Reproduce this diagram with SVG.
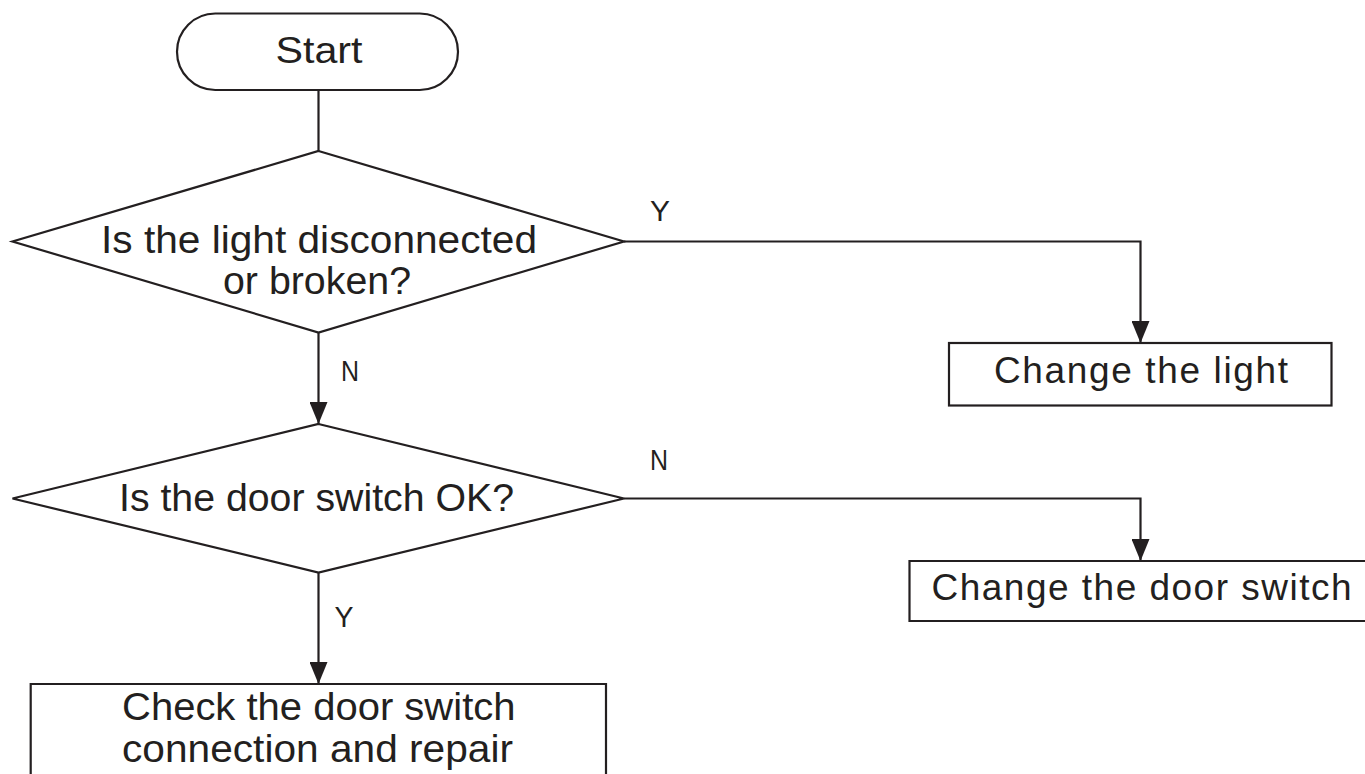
<svg xmlns="http://www.w3.org/2000/svg" width="1365" height="774" viewBox="0 0 1365 774">
<style>
.shape{fill:#fff;stroke:#231f20;stroke-width:2.2}
.conn{fill:none;stroke:#231f20;stroke-width:2.2}
.t{font-family:"Liberation Sans",Arial,sans-serif;font-size:37px;fill:#231f20}
.tn{font-family:"Liberation Sans",Arial,sans-serif;font-size:38px;fill:#231f20}
.lbl{font-family:"Liberation Sans",Arial,sans-serif;font-size:30px;fill:#231f20}
</style>
<defs>
<marker id="arr" viewBox="0 0 22 18" refX="22" refY="9" markerWidth="22" markerHeight="18" markerUnits="userSpaceOnUse" orient="auto">
<path d="M0,0 L22,9 L0,18 Z" fill="#231f20"/>
</marker>
</defs>
<rect width="1365" height="774" fill="#fff"/>
<g id="connectors">
<path class="conn" d="M318.5,90 V151"/>
<path class="conn" d="M624,241.5 H1140.5 V343" marker-end="url(#arr)"/>
<path class="conn" d="M318.5,332.5 V424" marker-end="url(#arr)"/>
<path class="conn" d="M624,498.5 H1140.5 V561" marker-end="url(#arr)"/>
<path class="conn" d="M318.5,572.5 V684" marker-end="url(#arr)"/>
<text class="lbl" x="650" y="221" textLength="20" lengthAdjust="spacingAndGlyphs">Y</text>
<text class="lbl" x="341" y="381" textLength="18" lengthAdjust="spacingAndGlyphs">N</text>
<text class="lbl" x="650" y="470" textLength="18" lengthAdjust="spacingAndGlyphs">N</text>
<text class="lbl" x="334.5" y="627" textLength="19" lengthAdjust="spacingAndGlyphs">Y</text>
</g>
<g id="start">
<rect class="shape" x="177" y="13.5" width="281" height="76.5" rx="38.25" ry="38.25"/>
<text class="t" x="275.5" y="63" textLength="87" lengthAdjust="spacingAndGlyphs">Start</text>
</g>
<g id="decision1">
<polygon class="shape" points="318.5,151 624,241.5 318.5,332.5 12.5,241.5"/>
<text class="tn" x="101" y="253" textLength="436" lengthAdjust="spacingAndGlyphs">Is the light disconnected</text>
<text class="tn" x="223" y="293.5" textLength="188" lengthAdjust="spacingAndGlyphs">or broken?</text>
</g>
<g id="change-light">
<rect class="shape" x="949" y="343" width="382.5" height="62.5"/>
<text class="t" x="994" y="383" textLength="294" lengthAdjust="spacing">Change the light</text>
</g>
<g id="decision2">
<polygon class="shape" points="318.5,424 624,498.5 318.5,572.5 12.5,498.5"/>
<text class="tn" x="119" y="511" textLength="395" lengthAdjust="spacingAndGlyphs">Is the door switch OK?</text>
</g>
<g id="change-switch">
<path class="shape" d="M1367,561 H909.5 V621 H1367"/>
<text class="t" x="931.5" y="600" textLength="420" lengthAdjust="spacing">Change the door switch</text>
</g>
<g id="check-repair">
<path class="shape" d="M30.7,776 V684 H606 V776"/>
<text class="tn" x="122" y="720" textLength="393.5" lengthAdjust="spacingAndGlyphs">Check the door switch</text>
<text class="tn" x="122" y="762" textLength="391" lengthAdjust="spacingAndGlyphs">connection and repair</text>
</g>
</svg>
